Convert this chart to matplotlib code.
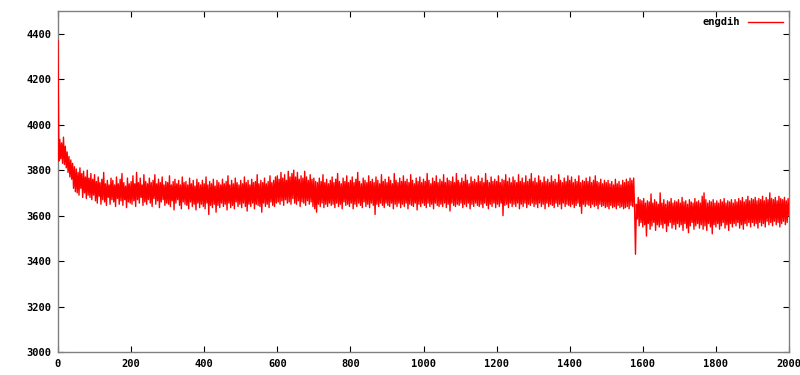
import numpy as np
import matplotlib
matplotlib.use("Agg")
import matplotlib.pyplot as plt

plt.rcParams["path.simplify"] = False

# x step between samples (simulation time units)
step = 2.5

# 0 .. 147.5 : initial relaxation
seg_decay = [
    4370, 3840, 3935, 3850, 3920, 3830, 3945, 3825, 3905, 3810, 3880, 3790, 3860, 3770, 3845, 3760, 3830, 3720, 3815, 3705,
    3805, 3700, 3790, 3690, 3810, 3720, 3785, 3680, 3795, 3700, 3770, 3675, 3800, 3690, 3765, 3680, 3785, 3670, 3760, 3690,
    3780, 3665, 3750, 3655, 3770, 3685, 3745, 3650, 3760, 3670, 3790, 3660, 3740, 3645, 3755, 3680, 3735, 3650, 3765, 3670,
]

# 150 .. 1547.5 : first plateau
seg_plateau = [
    3755, 3660, 3735, 3640, 3770, 3675, 3740, 3650, 3760, 3665, 3785, 3645, 3745, 3670, 3730, 3635, 3765, 3660, 3740, 3655,
    3750, 3650, 3775, 3665, 3740, 3640, 3790, 3670, 3745, 3655, 3765, 3680, 3735, 3645, 3780, 3660, 3750, 3650, 3740, 3670,
    3765, 3655, 3745, 3640, 3755, 3675, 3780, 3650, 3740, 3665, 3760, 3635, 3745, 3660, 3770, 3670, 3735, 3645, 3750, 3655,
    3745, 3650, 3775, 3640, 3735, 3665, 3750, 3625, 3760, 3655, 3740, 3670, 3755, 3645, 3735, 3630, 3770, 3660, 3745, 3650,
    3750, 3645, 3735, 3630, 3765, 3660, 3740, 3640, 3755, 3650, 3730, 3625, 3760, 3655, 3745, 3635, 3735, 3650, 3755, 3640,
    3740, 3630, 3770, 3655, 3735, 3605, 3750, 3645, 3740, 3635, 3760, 3650, 3730, 3615, 3755, 3645, 3745, 3635, 3735, 3655,
    3760, 3640, 3740, 3650, 3750, 3625, 3775, 3655, 3735, 3635, 3755, 3645, 3740, 3630, 3765, 3660, 3745, 3640, 3735, 3650,
    3755, 3635, 3740, 3655, 3770, 3640, 3745, 3620, 3755, 3650, 3735, 3640, 3760, 3655, 3745, 3630, 3750, 3650, 3780, 3645,
    3740, 3640, 3755, 3615, 3745, 3655, 3765, 3640, 3740, 3650, 3750, 3635, 3775, 3660, 3745, 3645, 3755, 3640, 3770, 3655,
    3775, 3660, 3760, 3650, 3790, 3665, 3765, 3645, 3780, 3670, 3755, 3655, 3795, 3660, 3770, 3650, 3785, 3675, 3800, 3655,
    3770, 3650, 3790, 3665, 3760, 3640, 3775, 3660, 3765, 3655, 3795, 3645, 3770, 3665, 3755, 3650, 3780, 3660, 3760, 3640,
    3765, 3630, 3750, 3615, 3745, 3650, 3765, 3640, 3750, 3655, 3780, 3635, 3745, 3650, 3760, 3640, 3740, 3655, 3755, 3645,
    3770, 3650, 3745, 3635, 3760, 3655, 3785, 3640, 3750, 3650, 3740, 3630, 3765, 3660, 3750, 3645, 3775, 3650, 3745, 3640,
    3755, 3655, 3770, 3630, 3745, 3650, 3760, 3640, 3790, 3655, 3750, 3645, 3740, 3635, 3765, 3660, 3755, 3640, 3745, 3650,
    3775, 3635, 3750, 3655, 3760, 3645, 3745, 3605, 3770, 3650, 3755, 3640, 3740, 3655, 3780, 3645, 3750, 3635, 3760, 3655,
    3745, 3645, 3770, 3640, 3755, 3655, 3740, 3630, 3785, 3650, 3755, 3640, 3745, 3655, 3765, 3635, 3750, 3650, 3775, 3640,
    3750, 3655, 3760, 3630, 3745, 3650, 3780, 3645, 3755, 3640, 3740, 3655, 3765, 3625, 3750, 3650, 3770, 3640, 3745, 3655,
    3760, 3645, 3750, 3635, 3785, 3655, 3755, 3640, 3740, 3650, 3765, 3630, 3750, 3655, 3775, 3645, 3745, 3640, 3760, 3650,
    3750, 3640, 3780, 3655, 3745, 3635, 3765, 3650, 3755, 3620, 3750, 3655, 3770, 3645, 3745, 3640, 3785, 3650, 3755, 3645,
    3745, 3655, 3765, 3635, 3750, 3650, 3780, 3640, 3755, 3655, 3740, 3630, 3770, 3650, 3750, 3640, 3760, 3655, 3745, 3645,
    3775, 3640, 3750, 3650, 3765, 3635, 3745, 3655, 3785, 3645, 3755, 3630, 3745, 3650, 3770, 3640, 3750, 3655, 3760, 3635,
    3750, 3650, 3775, 3640, 3745, 3655, 3760, 3600, 3755, 3645, 3780, 3650, 3750, 3635, 3765, 3655, 3745, 3640, 3770, 3650,
    3755, 3640, 3745, 3655, 3780, 3630, 3750, 3650, 3765, 3640, 3745, 3655, 3775, 3635, 3750, 3650, 3760, 3645, 3785, 3655,
    3750, 3640, 3765, 3650, 3745, 3635, 3775, 3655, 3755, 3640, 3745, 3650, 3770, 3630, 3750, 3655, 3760, 3640, 3745, 3650,
    3775, 3645, 3750, 3635, 3760, 3655, 3745, 3640, 3780, 3650, 3755, 3630, 3745, 3655, 3765, 3640, 3750, 3650, 3775, 3645,
    3755, 3640, 3770, 3650, 3745, 3635, 3760, 3645, 3750, 3655, 3775, 3640, 3745, 3610, 3755, 3650, 3750, 3640, 3765, 3650,
    3750, 3645, 3770, 3635, 3745, 3650, 3755, 3640, 3775, 3645, 3750, 3630, 3745, 3650, 3760, 3640, 3740, 3645, 3755, 3635,
    3745, 3640, 3755, 3630, 3740, 3645, 3750, 3635, 3735, 3640, 3760, 3630, 3740, 3645, 3750, 3635, 3735, 3640, 3755, 3630,
]

# 1550 .. 1597.5 : end of plateau, sharp drop near 1580
seg_jump = [
    3745, 3635, 3760, 3640, 3750, 3630, 3765, 3645, 3755, 3640, 3765, 3635, 3430, 3650, 3585, 3680, 3555, 3670, 3570, 3665,
]

# 1600 .. 2000 : second plateau
seg_after = [
    3550, 3675, 3560, 3655, 3510, 3665, 3565, 3660, 3540, 3695, 3555, 3655, 3570, 3670, 3535, 3660, 3560, 3650, 3550, 3700,
    3560, 3655, 3545, 3670, 3565, 3650, 3530, 3665, 3555, 3660, 3570, 3675, 3545, 3655, 3560, 3665, 3540, 3660, 3565, 3670,
    3550, 3655, 3560, 3680, 3535, 3660, 3565, 3665, 3545, 3650, 3525, 3670, 3555, 3660, 3570, 3655, 3540, 3675, 3555, 3660,
    3565, 3665, 3545, 3655, 3560, 3685, 3540, 3700, 3555, 3670, 3535, 3655, 3565, 3665, 3550, 3660, 3520, 3670, 3560, 3655,
    3550, 3665, 3565, 3655, 3540, 3670, 3555, 3660, 3570, 3675, 3545, 3655, 3560, 3665, 3535, 3660, 3565, 3670, 3550, 3655,
    3565, 3670, 3555, 3660, 3570, 3675, 3545, 3665, 3560, 3680, 3540, 3660, 3565, 3670, 3555, 3685, 3570, 3665, 3550, 3675,
    3570, 3670, 3555, 3680, 3565, 3665, 3545, 3675, 3570, 3670, 3555, 3685, 3565, 3665, 3550, 3680, 3575, 3670, 3560, 3700,
    3570, 3675, 3555, 3670, 3575, 3680, 3560, 3665, 3570, 3685, 3550, 3675, 3565, 3670, 3575, 3680, 3560, 3665, 3570, 3675,
    3600,
]

values = np.array(seg_decay + seg_plateau + seg_jump + seg_after, dtype=float)
xs = np.arange(len(values)) * step

xticks = list(range(0, 2001, 200))
yticks = list(range(3000, 4401, 200))
series_name = "engdih"

fig = plt.figure(figsize=(8, 3.75), dpi=100)
ax = fig.add_axes([58/800, 23/375, (789-58)/800, (352-11)/375])

ax.plot(xs, values, color="#ff0000", lw=1.0, label=series_name, zorder=3)

ax.set_xlim(0, 2000)
ax.set_ylim(3000, 4500)
ax.set_xticks(xticks)
ax.set_yticks(yticks)

font = dict(family="DejaVu Sans Mono", weight="bold", size=7.5)
ax.set_xticklabels([str(t) for t in xticks], fontdict=font)
ax.set_yticklabels([str(t) for t in yticks], fontdict=font)
ax.tick_params(direction="in", length=4, width=0.8, color="#000000",
               top=True, right=True, pad=5)

for s in ax.spines.values():
    s.set_color("#808080")
    s.set_linewidth(1.0)

leg = ax.legend(loc="upper right", frameon=False, markerfirst=False,
                handlelength=3.3, handletextpad=0.8,
                prop=dict(family="DejaVu Sans Mono", weight="bold", size=7.5),
                borderaxespad=0.2)

fig.savefig("out.png", dpi=100)
